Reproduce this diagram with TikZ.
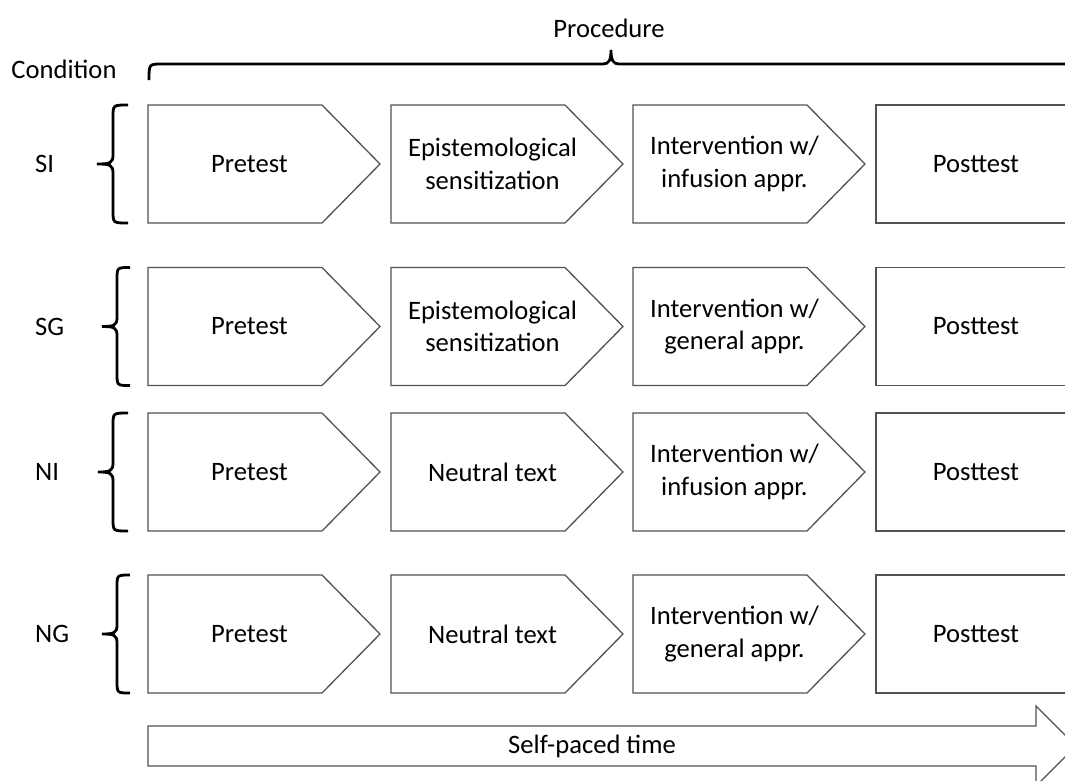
\documentclass[tikz,border=0pt]{standalone}
\usepackage{fontspec}
\setmainfont{Carlito}
\usetikzlibrary{calc}
\tikzset{
  boxline/.style={draw=black!68, line width=1.3pt, fill=white},
  txt/.style={inner sep=0pt, align=center, font=\fontsize{26.6}{32.5}\selectfont},
  bracepath/.style={draw=black, line width=2.8pt, line cap=butt},
}
\newcommand{\mychevbox}[4]{% name, left x, center y, text
  \draw[boxline] (#2,#3-59) -- (#2+174,#3-59) -- (#2+232,#3) -- (#2+174,#3+59) -- (#2,#3+59) -- cycle;
  \node[txt] (#1) at (#2+101.5,#3) {#4};
}
\newcommand{\mypostbox}[4]{%
  \draw[boxline] (#2+200,#3-59) -- (#2,#3-59) -- (#2,#3+59) -- (#2+200,#3+59) -- cycle;
  \node[txt] (#1) at (#2+100,#3) {#4};
}
\newcommand{\mycondbrace}[5]{% label node name, center y, vertical x, end x, tip x
  \draw[bracepath] (#4,#2-59) .. controls (#3,#2-59) .. (#3,#2-47) -- (#3,#2-9)
    .. controls (#3,#2-1) and (#3-3,#2) .. (#5,#2)
    .. controls (#3-3,#2) and (#3,#2+1) .. (#3,#2+9) -- (#3,#2+47)
    .. controls (#3,#2+59) .. (#4,#2+59);
}
\begin{document}
\begin{tikzpicture}[x=1pt,y=-1pt]
\useasboundingbox (0,0) rectangle (1065,780);
\clip (0,0) rectangle (1065,780);

% headers
\node[txt] (cond) at (64,69) {Condition};
\node[txt] (proc) at (609,28) {Procedure};
\draw[bracepath] (149,80) .. controls (149,64) .. (162,64) -- (603,64)
  .. controls (609,64) and (611,60) .. (611,50)
  .. controls (611,60) and (613,64) .. (619,64) -- (1060,64)
  .. controls (1073,64) .. (1073,80);

% rows
\foreach \name/\cy/\ta/\tb/\xv/\xe/\xt in {SI/164/{Epistemological\\sensitization}/{Intervention w/\\infusion appr.}/113/128/97,
  SG/326.5/{Epistemological\\sensitization}/{Intervention w/\\general appr.}/117/130/102,
  NI/472/{Neutral text}/{Intervention w/\\infusion appr.}/113/128/98,
  NG/634/{Neutral text}/{Intervention w/\\general appr.}/117/130/102}{
  \node[txt, anchor=west] (lab\name) at (35,\cy) {\name};
  \mycondbrace{\name}{\cy}{\xv}{\xe}{\xt}
  \mychevbox{pre\name}{148}{\cy}{Pretest}
  \mychevbox{mid\name}{391}{\cy}{\ta}
  \mychevbox{int\name}{633}{\cy}{\tb}
  \mypostbox{post\name}{876}{\cy}{Posttest}
}

% time arrow
\draw[boxline] (148,726) -- (1036,726) -- (1036,706) -- (1076,746) -- (1036,786) -- (1036,766) -- (148,766) -- cycle;
\node[txt] (time) at (592,746) {Self-paced time};
\end{tikzpicture}
\end{document}
